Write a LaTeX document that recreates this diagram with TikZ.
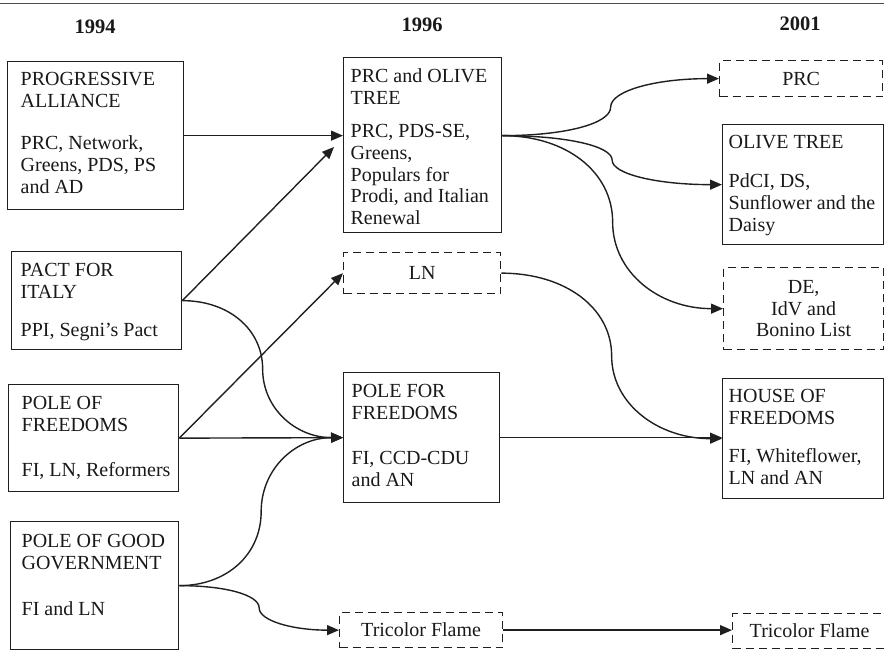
\documentclass[tikz,border=0pt]{standalone}
\usepackage{fontspec}
\setmainfont{Liberation Serif}
\usetikzlibrary{arrows.meta,calc}
\newcommand{\tbx}[3]{\makebox[#1pt][l]{\hspace*{#2pt}\begin{tabular}[t]{@{}l@{}}#3\end{tabular}}}
\tikzset{
  txtfont/.style={font=\fontsize{20pt}{21.8pt}\selectfont, text=black!90},
  hdr/.style={font=\fontsize{20.5pt}{24pt}\selectfont\bfseries, text=black!90, anchor=base},
  sbox/.style={txtfont, draw=black!88, line width=1.3pt, inner sep=0pt, anchor=north west},
  dbox/.style={txtfont, draw=black!88, line width=1.3pt, dash pattern=on 8pt off 5pt, inner sep=0pt, anchor=north west, align=center},
  conn/.style={draw=black!88, line width=1.4pt, -{Triangle[length=12pt,width=10pt]}},
  scurve/.style={to path={let \p1=(\tikztostart), \p2=(\tikztotarget),
     \n1={(\x1+\x2)/2}, \n2={(\y1+\y2)/2},
     \n3={\x1+0.58*(\n1-\x1)}, \n4={\n2+0.58*(\y1-\n2)},
     \n5={\n2+0.58*(\y2-\n2)}, \n6={\x2+0.58*(\n1-\x2)} in
     .. controls (\n3,\y1) and (\n1,\n4) .. (\n1,\n2)
     .. controls (\n1,\n5) and (\n6,\y2) .. (\tikztotarget) \tikztonodes}}
}
\begin{document}
\begin{tikzpicture}[x=1pt,y=1pt]
\useasboundingbox (0,0) rectangle (884,652);
% top rule
\coordinate (tl) at (0,648);
\coordinate (tr) at (884,648);
\draw[black!70, line width=1pt] (tl) -- (tr);
% headers
\node[hdr] (h1) at (95,618) {1994};
\node[hdr] (h2) at (422,620) {1996};
\node[hdr] (h3) at (800,621) {2001};
% column 1994
\node[sbox, text height=24pt, text depth=124pt] (A1) at (7,591)
  {\tbx{176}{13}{PROGRESSIVE\\ALLIANCE\\[20.2pt]PRC, Network,\\Greens, PDS, PS\\and AD}};
\node[sbox, text height=25pt, text depth=73pt] (A2) at (11,401)
  {\tbx{170}{9}{PACT FOR\\ITALY\\[16.2pt]PPI, Segni's Pact}};
\node[sbox, text height=25pt, text depth=82pt] (A3) at (8,268)
  {\tbx{170}{13}{POLE OF\\FREEDOMS\\[23.2pt]FI, LN, Reformers}};
\node[sbox, text height=26pt, text depth=102pt] (A4) at (10,131)
  {\tbx{168}{11}{POLE OF GOOD\\GOVERNMENT\\[24.2pt]FI and LN}};
% column 1996
\node[sbox, text height=25pt, text depth=150pt] (B1) at (343,595)
  {\tbx{158}{7}{PRC and OLIVE\\TREE\\[11.2pt]PRC, PDS-SE,\\Greens,\\Populars for\\Prodi, and Italian\\Renewal}};
\node[dbox, minimum width=157pt, minimum height=41pt] (B2) at (343,400) {LN};
\node[sbox, text height=25pt, text depth=105pt] (B3) at (343,280)
  {\tbx{156}{8}{POLE FOR\\FREEDOMS\\[23.2pt]FI, CCD-CDU\\and AN}};
\node[dbox, minimum width=163pt, minimum height=35pt] (B4) at (339,40) {Tricolor Flame};
% column 2001
\node[dbox, minimum width=163pt, minimum height=36pt] (C1) at (719,592) {PRC};
\node[sbox, text height=24pt, text depth=96pt] (C2) at (722,528)
  {\tbx{161}{6}{OLIVE TREE\\[17.2pt]PdCI, DS,\\Sunflower and the\\Daisy}};
\node[dbox, minimum width=160pt, minimum height=82pt] (C3) at (723,385) {DE,\\IdV and\\Bonino List};
\node[sbox, text height=24pt, text depth=96pt] (C4) at (722,274)
  {\tbx{161}{6}{HOUSE OF\\FREEDOMS\\[16.2pt]FI, Whiteflower,\\LN and AN}};
\node[dbox, minimum width=154pt, minimum height=35pt] (C5) at (732,39) {Tricolor Flame};
% helper coordinates
\coordinate (p1) at (334,505);
\coordinate (b1o) at (B1.east |- A1.east);
% connectors 1994 -> 1996
\draw[conn] (A1.east) -- (A1.east -| B1.west);
\draw[conn] (A2.east) -- (p1);
\draw[conn] (A2.east) to[scurve] (B3.west);
\draw[conn] (A3.east) -- (B2.west);
\draw[conn] (A3.east) -- (B3.west);
\draw[conn] (A4.east) to[scurve] (B3.west);
\draw[conn] (A4.east) to[scurve] (B4.west);
% connectors 1996 -> 2001
\draw[conn] (b1o) to[scurve] (C1.west);
\draw[conn] (b1o) to[scurve] (C2.west);
\draw[conn] (b1o) to[scurve] (C3.west);
\draw[conn] (B2.east) to[scurve] (C4.west);
\draw[conn] (B3.east) -- (B3.east -| C4.west);
\draw[conn] (B4.east) -- (B4.east -| C5.west);
\end{tikzpicture}
\end{document}
